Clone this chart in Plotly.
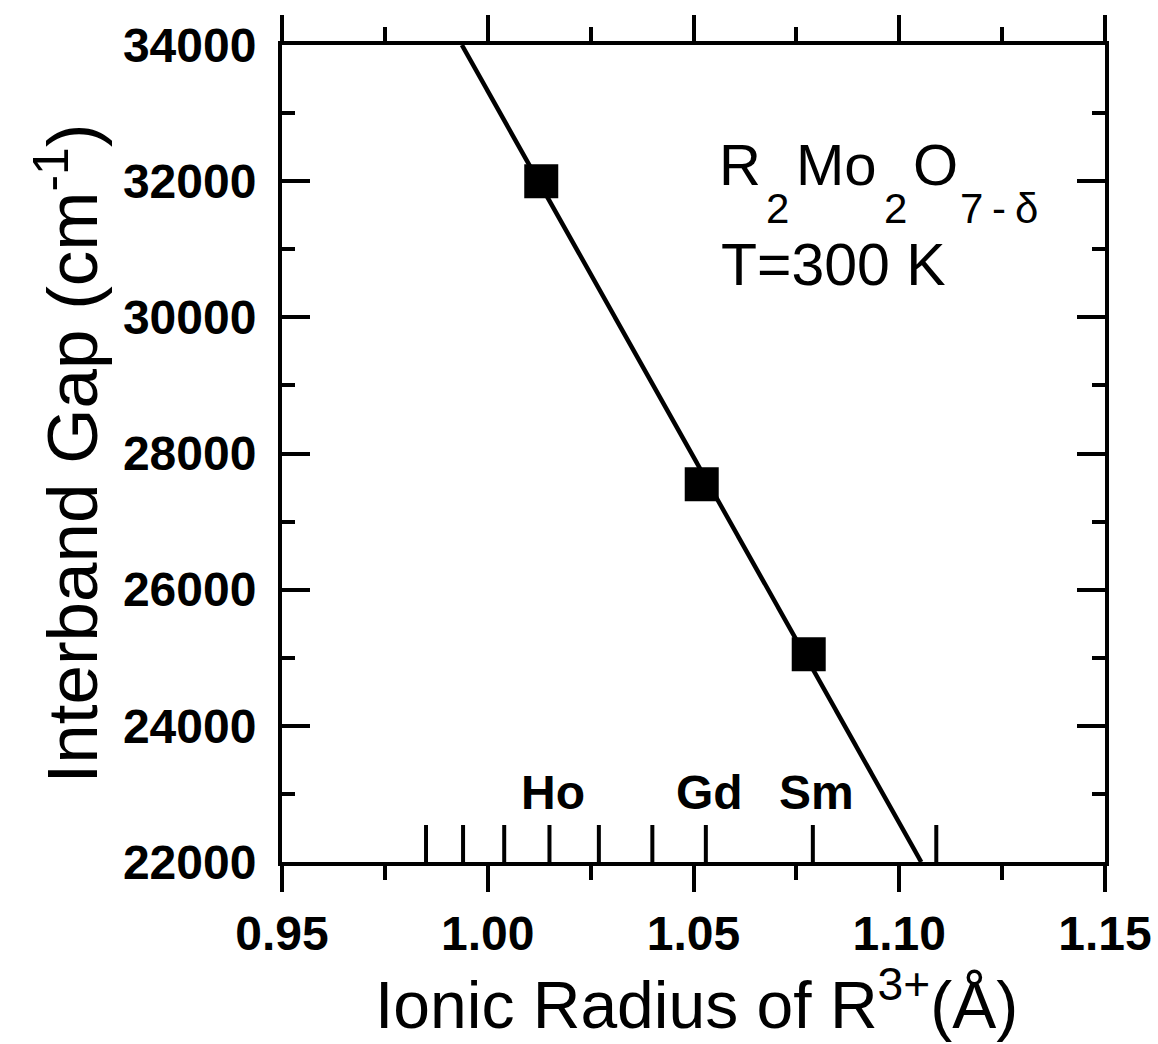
import numpy as np
import plotly.graph_objects as go

# Measured points: ionic radius of R3+ (Å) vs. interband gap (cm^-1)
elements = ["Ho", "Gd", "Sm"]
ionic_radius = [1.013, 1.052, 1.078]
interband_gap = [32000, 27550, 25050]

# Reference ionic radii of the rare-earth ions marked along the bottom axis
scale_ions = ["Yb", "Tm", "Er", "Ho", "Dy", "Tb", "Gd", "Sm", "Nd"]
scale_radii = [0.985, 0.994, 1.004, 1.015, 1.027, 1.040, 1.053, 1.079, 1.109]
labelled_ions = ["Ho", "Gd", "Sm"]

x_range = [0.95, 1.15]
y_range = [22000, 34000]
x_ticks = [0.95, 1.00, 1.05, 1.10, 1.15]
y_ticks = [22000, 24000, 26000, 28000, 30000, 32000, 34000]

W, H = 1158, 1044
L, R, T, B = 282, 1105, 45, 862  # plot area edges in px
FONT = "Liberation Sans, Arial, sans-serif"


def px_x(p):
    return (p - L) / (R - L)


def px_y(p):
    return (B - p) / (B - T)


# linear fit through the points, drawn across the full vertical range
slope, intercept = np.polyfit(ionic_radius, interband_gap, 1)
fit_y = np.array(y_range[::-1], dtype=float)
fit_x = (fit_y - intercept) / slope

fig = go.Figure()
fig.add_trace(go.Scatter(
    x=fit_x, y=fit_y, mode="lines",
    line=dict(color="black", width=4.5),
    hoverinfo="skip", showlegend=False,
))
fig.add_trace(go.Scatter(
    x=ionic_radius, y=interband_gap, mode="markers", text=elements,
    marker=dict(symbol="square", size=34, color="black", line=dict(width=0)),
    showlegend=False,
))

shapes = []
annotations = []
tick_h = 37 / (B - T)
for ion, r in zip(scale_ions, scale_radii):
    shapes.append(dict(type="line", xref="x", yref="paper", x0=r, x1=r,
                       y0=0, y1=tick_h, line=dict(color="black", width=4)))
    if ion in labelled_ions:
        annotations.append(dict(
            text=ion, xref="x", yref="paper", x=r, xshift=4, y=px_y(792),
            xanchor="center", yanchor="middle", showarrow=False,
            font=dict(family=FONT, size=48, color="black", weight="bold"),
        ))

# formula R2Mo2O7-δ, built from pieces so the subscripts sit low
main_font = dict(family=FONT, size=58, color="black")
sub_font = dict(family=FONT, size=42, color="black")
pieces = [
    ("R", 739.5, 164, main_font),
    ("2", 777.5, 209, sub_font),
    ("Mo", 836, 164, main_font),
    ("2", 895, 209, sub_font),
    ("O", 935, 164, main_font),
    ("7", 971.5, 209, sub_font),
    ("-", 998.5, 209, sub_font),
    ("δ", 1026.5, 209, sub_font),
]
for txt, cx, cy, f in pieces:
    annotations.append(dict(
        text=txt, xref="paper", yref="paper", x=px_x(cx), y=px_y(cy),
        xanchor="center", yanchor="middle", showarrow=False, font=f,
    ))
annotations.append(dict(
    text="T=300 K", xref="paper", yref="paper", x=px_x(833.5), y=px_y(265),
    xanchor="center", yanchor="middle", showarrow=False,
    font=dict(family=FONT, size=59, color="black"),
))

# axis titles
annotations.append(dict(
    text="Ionic Radius of R<sup>3+</sup>(Å)", xref="paper", yref="paper",
    x=px_x(696), y=px_y(1044), xanchor="center", yanchor="bottom",
    showarrow=False, font=dict(family=FONT, size=66, color="black"),
))
annotations.append(dict(
    text="Interband Gap (cm<sup>-1</sup>)", xref="paper", yref="paper",
    x=px_x(67), y=0.5, xanchor="center", yanchor="middle", textangle=-90,
    showarrow=False, font=dict(family=FONT, size=71, color="black"),
))

tick_font = dict(family=FONT, size=48, color="black", weight="bold")

fig.update_layout(
    width=W, height=H,
    margin=dict(l=L, r=W - R, t=T, b=H - B, autoexpand=False),
    paper_bgcolor="white", plot_bgcolor="white",
    shapes=shapes, annotations=annotations,
    xaxis=dict(
        range=x_range, tickvals=x_ticks, ticktext=[f"{v:.2f}" for v in x_ticks],
        ticks="outside", ticklen=26, tickwidth=4, tickcolor="black",
        minor=dict(dtick=0.025, tick0=0.95, ticks="outside", ticklen=14,
                   tickwidth=4, tickcolor="black"),
        showline=True, linewidth=4, linecolor="black", mirror="allticks",
        showgrid=False, zeroline=False, tickfont=tick_font,
        ticklabelstandoff=0,
    ),
    yaxis=dict(
        range=y_range, tickvals=y_ticks, ticktext=[str(v) for v in y_ticks],
        ticks="inside", ticklen=28, tickwidth=4, tickcolor="black",
        minor=dict(dtick=1000, tick0=22000, ticks="inside", ticklen=13,
                   tickwidth=4, tickcolor="black"),
        showline=True, linewidth=4, linecolor="black", mirror="allticks",
        showgrid=False, zeroline=False, tickfont=tick_font,
        ticklabelstandoff=12,
    ),
)

fig.write_html("out.html")
